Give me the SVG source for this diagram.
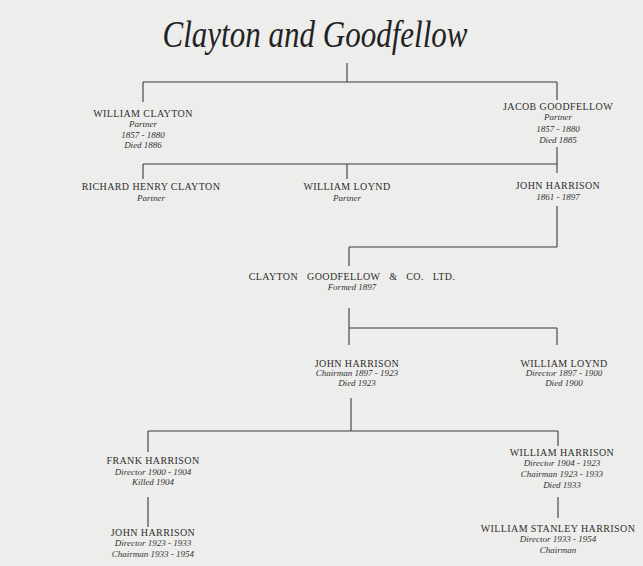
<svg xmlns="http://www.w3.org/2000/svg" width="643" height="566" viewBox="0 0 643 566">
<defs>
<style>
.bg{fill:#ededeb}
.t{font-family:"Liberation Serif",serif;font-size:10px;fill:#2e2e2e;text-anchor:middle;letter-spacing:0.4px}
.i{font-family:"Liberation Serif",serif;font-size:9px;font-style:italic;fill:#333;text-anchor:middle}
.title{font-family:"Liberation Serif",serif;font-style:italic;font-size:37px;fill:#222;text-anchor:middle}
.ln{stroke:#3a3a3a;stroke-width:1.1;fill:none}
</style>
</defs>
<rect class="bg" width="643" height="566"/>
<text class="title" x="315" y="47" textLength="305" lengthAdjust="spacingAndGlyphs">Clayton and Goodfellow</text>
<g id="connectors">
<path class="ln" d="M347 63V82M143 82H557M143 82V102M557 82V100"/>
<path class="ln" d="M557 147V173M143 164H557M143 164V179M347 164V179"/>
<path class="ln" d="M557 206V247M349 247H557M349 247V266"/>
<path class="ln" d="M349 308V345M349 328H557M557 328V345"/>
<path class="ln" d="M351 398V431M148 431H558M148 431V452M558 431V446"/>
<path class="ln" d="M148 497V527M558 497V518"/>
</g>
<g id="william-clayton"><text class="t" x="143" y="117">WILLIAM CLAYTON</text><text class="i" x="143" y="127">Partner</text><text class="i" x="143" y="138">1857 - 1880</text><text class="i" x="143" y="148">Died 1886</text></g>
<g id="jacob-goodfellow"><text class="t" x="558" y="110">JACOB GOODFELLOW</text><text class="i" x="558" y="120">Partner</text><text class="i" x="558" y="132">1857 - 1880</text><text class="i" x="558" y="143">Died 1885</text></g>
<g id="richard-henry-clayton"><text class="t" x="151" y="190">RICHARD HENRY CLAYTON</text><text class="i" x="151" y="201">Partner</text></g>
<g id="william-loynd-1"><text class="t" x="347" y="190">WILLIAM LOYND</text><text class="i" x="347" y="201">Partner</text></g>
<g id="john-harrison-1"><text class="t" x="558" y="189">JOHN HARRISON</text><text class="i" x="558" y="200">1861 - 1897</text></g>
<g id="company"><text class="t" x="352" y="280" style="word-spacing:6px">CLAYTON GOODFELLOW &amp; CO. LTD.</text><text class="i" x="352" y="290">Formed 1897</text></g>
<g id="john-harrison-2"><text class="t" x="357" y="367">JOHN HARRISON</text><text class="i" x="357" y="376">Chairman 1897 - 1923</text><text class="i" x="357" y="386">Died 1923</text></g>
<g id="william-loynd-2"><text class="t" x="564" y="367">WILLIAM LOYND</text><text class="i" x="564" y="376">Director 1897 - 1900</text><text class="i" x="564" y="386">Died 1900</text></g>
<g id="frank-harrison"><text class="t" x="153" y="464">FRANK HARRISON</text><text class="i" x="153" y="475">Director 1900 - 1904</text><text class="i" x="153" y="485">Killed 1904</text></g>
<g id="william-harrison"><text class="t" x="562" y="456">WILLIAM HARRISON</text><text class="i" x="562" y="466">Director 1904 - 1923</text><text class="i" x="562" y="477">Chairman 1923 - 1933</text><text class="i" x="562" y="488">Died 1933</text></g>
<g id="john-harrison-3"><text class="t" x="153" y="536">JOHN HARRISON</text><text class="i" x="153" y="546">Director 1923 - 1933</text><text class="i" x="153" y="557">Chairman 1933 - 1954</text></g>
<g id="william-stanley-harrison"><text class="t" x="558" y="532">WILLIAM STANLEY HARRISON</text><text class="i" x="558" y="542">Director 1933 - 1954</text><text class="i" x="558" y="553">Chairman</text></g>
</svg>
